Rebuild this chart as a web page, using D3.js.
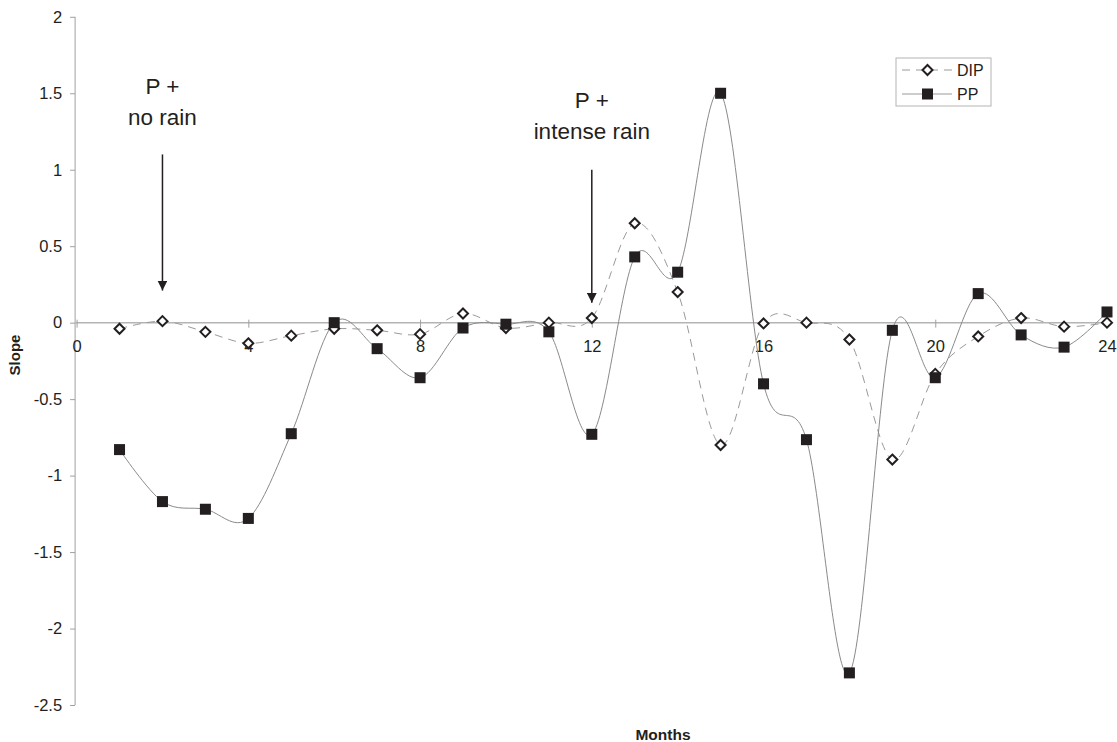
<!DOCTYPE html>
<html>
<head>
<meta charset="utf-8">
<script src="https://cdn.jsdelivr.net/npm/d3@7"></script>
<style>
  body { margin: 0; background: #fff; }
  svg { font-family: "Liberation Sans", Arial, sans-serif; }
</style>
</head>
<body>
<div id="vis"></div>
<script>
// Frame size and plot area
const FRAME_WIDTH = 1117;
const FRAME_HEIGHT = 742;
const PLOT = {left: 76.6, right: 1107, top: 16.8, bottom: 705};

// Data
const MONTHS = [1, 2, 3, 4, 5, 6, 7, 8, 9, 10, 11, 12, 13, 14, 15, 16, 17, 18, 19, 20, 21, 22, 23, 24];
const DIP = [-0.04, 0.01, -0.06, -0.135, -0.085, -0.04, -0.05, -0.075, 0.06, -0.035, 0.0, 0.03,
             0.65, 0.20, -0.80, -0.005, 0.0, -0.11, -0.895, -0.335, -0.09, 0.03, -0.026, 0.0];
const PP = [-0.83, -1.17, -1.22, -1.28, -0.726, 0.0, -0.17, -0.36, -0.035, -0.01, -0.06, -0.73,
            0.43, 0.33, 1.50, -0.40, -0.765, -2.29, -0.05, -0.36, 0.19, -0.08, -0.16, 0.07];
const X_TICKS = [0, 4, 8, 12, 16, 20, 24];
const Y_TICKS = [-2.5, -2, -1.5, -1, -0.5, 0, 0.5, 1, 1.5, 2];
const ANNOTATIONS = [
  {month: 2, lines: ["P +", "no rain"], label: 1.492, top: 1.1, tip: 0.21},
  {month: 12, lines: ["P +", "intense rain"], label: 1.405, top: 1.0, tip: 0.13}
];

const AXIS_COLOR = "#a0a0a0";
const INK = "#231f20";

const FRAME = d3.select("#vis")
  .append("svg")
    .attr("width", FRAME_WIDTH)
    .attr("height", FRAME_HEIGHT);

const X_SCALE = d3.scaleLinear().domain([0, 24]).range([PLOT.left, PLOT.right]);
const Y_SCALE = d3.scaleLinear().domain([-2.5, 2]).range([PLOT.bottom, PLOT.top]);

// Y axis
const yAxis = FRAME.append("g")
  .attr("transform", "translate(" + (PLOT.left - 1.5) + ",0)")
  .call(d3.axisLeft(Y_SCALE).tickValues(Y_TICKS).tickSize(5).tickPadding(8)
    .tickFormat((d) => String(d)));
yAxis.select(".domain").attr("stroke", AXIS_COLOR).attr("d",
  "M0," + Y_SCALE(2) + "V" + Y_SCALE(-2.5));
yAxis.selectAll(".tick line").attr("stroke", AXIS_COLOR);
yAxis.selectAll(".tick text").attr("font-size", "16.5px").attr("fill", INK);

// X axis across zero
const xAxis = FRAME.append("g")
  .attr("transform", "translate(0," + Y_SCALE(0) + ")")
  .call(d3.axisBottom(X_SCALE).tickValues(X_TICKS).tickSize(6).tickPadding(12)
    .tickFormat((d) => String(d)));
xAxis.select(".domain").attr("stroke", "#b4b4b4").attr("stroke-width", 1.5)
  .attr("d", "M" + (PLOT.left - 1.5) + ",0H" + PLOT.right);
xAxis.selectAll(".tick line").attr("stroke", AXIS_COLOR).attr("y1", -3).attr("y2", 5);
xAxis.selectAll(".tick text").attr("font-size", "16.5px").attr("fill", INK);

// Axis titles
FRAME.append("text")
  .attr("x", 663).attr("y", 740)
  .attr("text-anchor", "middle")
  .attr("font-size", "15.5px").attr("font-weight", "bold").attr("fill", INK)
  .text("Months");
FRAME.append("text")
  .attr("transform", "translate(20,355) rotate(-90)")
  .attr("text-anchor", "middle")
  .attr("font-size", "15px").attr("font-weight", "bold").attr("fill", INK)
  .text("Slope");

// Smoothed lines
const line = (vals) => d3.line()
  .x((d, i) => X_SCALE(MONTHS[i]))
  .y((d) => Y_SCALE(d))
  .curve(d3.curveCardinal.tension(0))(vals);

FRAME.append("path")
  .attr("d", line(DIP))
  .attr("fill", "none")
  .attr("stroke", "#9a9a9a")
  .attr("stroke-width", 1)
  .attr("stroke-dasharray", "8,6");

FRAME.append("path")
  .attr("d", line(PP))
  .attr("fill", "none")
  .attr("stroke", "#8a8a8a")
  .attr("stroke-width", 1);

// DIP markers: hollow diamonds
const diamond = "M0,-5L5,0L0,5L-5,0Z";
FRAME.append("g")
  .selectAll("path")
  .data(DIP)
  .enter()
  .append("path")
    .attr("transform", (d, i) => "translate(" + X_SCALE(MONTHS[i]) + "," + Y_SCALE(d) + ")")
    .attr("d", diamond)
    .attr("fill", "#fff")
    .attr("stroke", INK)
    .attr("stroke-width", 2);

// PP markers: filled squares
FRAME.append("g")
  .selectAll("rect")
  .data(PP)
  .enter()
  .append("rect")
    .attr("x", (d, i) => X_SCALE(MONTHS[i]) - 5.5)
    .attr("y", (d) => Y_SCALE(d) - 5.5)
    .attr("width", 11)
    .attr("height", 11)
    .attr("fill", INK);

// Annotations with arrows
FRAME.append("defs").append("marker")
  .attr("id", "arrow")
  .attr("viewBox", "0 0 10 10")
  .attr("refX", 10).attr("refY", 5)
  .attr("markerWidth", 10).attr("markerHeight", 10)
  .attr("markerUnits", "userSpaceOnUse")
  .attr("orient", "auto")
  .append("path")
    .attr("d", "M0,0L10,5L0,10Z")
    .attr("fill", INK);

ANNOTATIONS.forEach((a) => {
  const cx = X_SCALE(a.month);
  a.lines.forEach((t, j) => {
    FRAME.append("text")
      .attr("x", cx)
      .attr("y", Y_SCALE(a.label) + j * 31)
      .attr("text-anchor", "middle")
      .attr("font-size", "22.5px")
      .attr("fill", INK)
      .text(t);
  });
  FRAME.append("line")
    .attr("x1", cx).attr("x2", cx)
    .attr("y1", Y_SCALE(a.top)).attr("y2", Y_SCALE(a.tip))
    .attr("stroke", INK)
    .attr("stroke-width", 1.5)
    .attr("marker-end", "url(#arrow)");
});

// Legend
const LEGEND = {x: 896, y: 58, w: 95, h: 48};
const legend = FRAME.append("g");
legend.append("rect")
  .attr("x", LEGEND.x).attr("y", LEGEND.y)
  .attr("width", LEGEND.w).attr("height", LEGEND.h)
  .attr("fill", "#fff").attr("stroke", "#b4b4b4");
[{name: "DIP", y: 70, dash: "8,6"}, {name: "PP", y: 94, dash: null}].forEach((s) => {
  legend.append("line")
    .attr("x1", 902).attr("x2", 952)
    .attr("y1", s.y).attr("y2", s.y)
    .attr("stroke", "#9a9a9a")
    .attr("stroke-dasharray", s.dash);
  if (s.name === "DIP") {
    legend.append("path")
      .attr("transform", "translate(927.5," + s.y + ")")
      .attr("d", diamond)
      .attr("fill", "#fff").attr("stroke", INK).attr("stroke-width", 2);
  } else {
    legend.append("rect")
      .attr("x", 922).attr("y", s.y - 5.5)
      .attr("width", 11).attr("height", 11)
      .attr("fill", INK);
  }
  legend.append("text")
    .attr("x", 957).attr("y", s.y + 5.5)
    .attr("font-size", "16px").attr("fill", INK)
    .text(s.name);
});
</script>
</body>
</html>
